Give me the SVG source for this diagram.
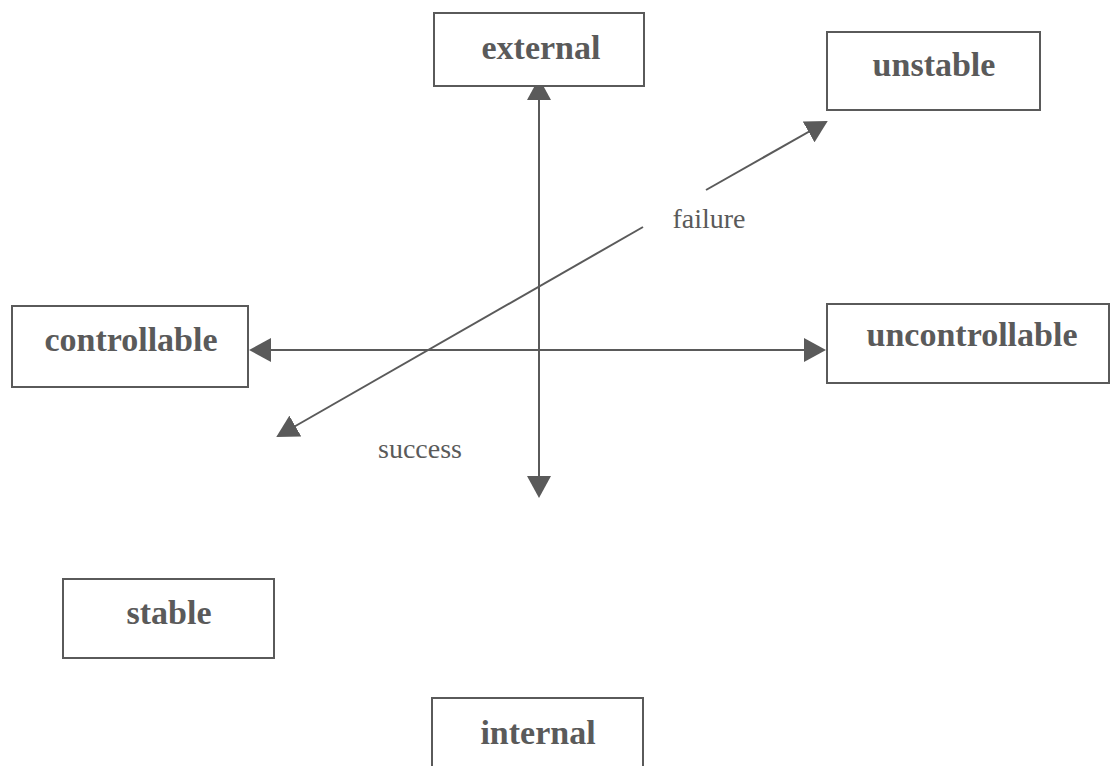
<svg xmlns="http://www.w3.org/2000/svg" width="1110" height="766" viewBox="0 0 1110 766">
<style>
.box{fill:#fff;stroke:#5a5a5a;stroke-width:2}
.lbl{font-family:"Liberation Serif","Times New Roman",serif;font-weight:bold;font-size:34px;fill:#5a5a5a;text-anchor:middle}
.tag{font-family:"Liberation Serif","Times New Roman",serif;font-size:28px;fill:#5a5a5a;text-anchor:middle}
.conn{stroke:#5a5a5a;stroke-width:2;fill:none}
</style>
<defs>
<marker id="ah" viewBox="0 0 22 24" refX="20" refY="12" markerWidth="22" markerHeight="24" markerUnits="userSpaceOnUse" orient="auto-start-reverse">
<path d="M0,0 L22,12 L0,24 z" fill="#5a5a5a"/>
</marker>
</defs>
<rect width="1110" height="766" fill="#fff"/>
<g id="connectors">
<path class="conn" d="M539,80 L539,496" marker-start="url(#ah)" marker-end="url(#ah)"/>
<path class="conn" d="M251,350 L824,350" marker-start="url(#ah)" marker-end="url(#ah)"/>
<path class="conn" d="M278,436 L643,227" marker-start="url(#ah)"/>
<path class="conn" d="M706,190 L826,122" marker-end="url(#ah)"/>
</g>
<g id="node-external">
<rect class="box" x="434" y="13" width="210" height="73"/>
<text class="lbl" x="541" y="59">external</text>
</g>
<g id="node-unstable">
<rect class="box" x="827" y="32" width="213" height="78"/>
<text class="lbl" x="934" y="76">unstable</text>
</g>
<g id="node-controllable">
<rect class="box" x="12" y="306" width="236" height="81"/>
<text class="lbl" x="131" y="351">controllable</text>
</g>
<g id="node-uncontrollable">
<rect class="box" x="827" y="304" width="282" height="79"/>
<text class="lbl" x="972" y="346">uncontrollable</text>
</g>
<g id="node-stable">
<rect class="box" x="63" y="579" width="211" height="79"/>
<text class="lbl" x="169" y="624">stable</text>
</g>
<g id="node-internal">
<rect class="box" x="432" y="698" width="211" height="80"/>
<text class="lbl" x="538" y="744">internal</text>
</g>
<g id="labels">
<text class="tag" x="709" y="228">failure</text>
<text class="tag" x="420" y="458">success</text>
</g>
</svg>
